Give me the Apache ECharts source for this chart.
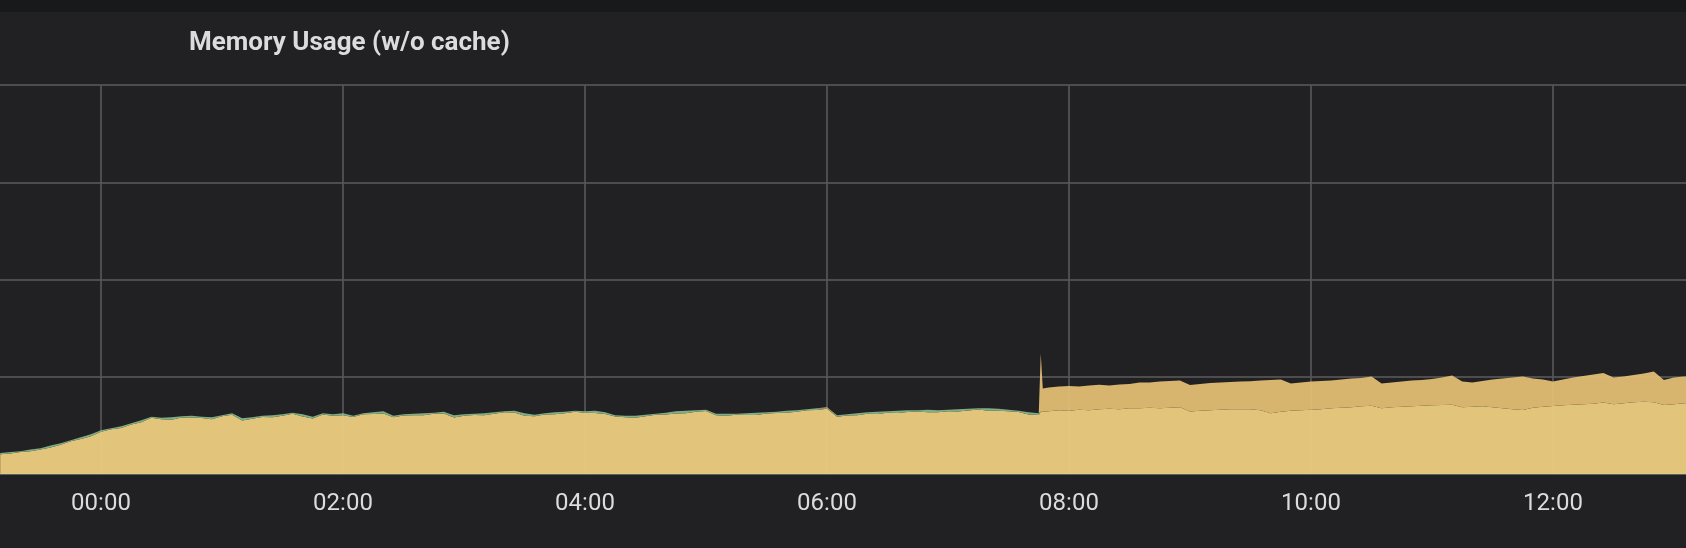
<!DOCTYPE html>
<html>
<head>
<meta charset="utf-8">
<script src="https://cdn.jsdelivr.net/npm/echarts@6/dist/echarts.min.js"></script>
<style>
  html, body { margin: 0; padding: 0; background: #212124; }
  #chart { width: 1686px; height: 548px; }
</style>
</head>
<body>
<div id="chart"></div>
<script>
// Time in minutes relative to 00:00 (negative = previous day), one sample every 5 minutes
const START_MIN = -50;
const STEP_MIN = 5;

// Memory (MiB) – light yellow series (bottom of the stack)
const yellowMiB = [
  20.3,21.0,22.5,23.3,25.2,27.2,30.1,33.6,36.1,38.7,
  43.5,46.1,47.3,50.8,53.1,57.8,56.2,55.9,58.2,58.1,
  57.5,56.3,59.4,60.8,55.1,56.8,58.7,58.4,59.8,61.9,
  59.2,57.1,61.2,59.8,60.4,58.5,61.4,61.7,62.1,58.4,
  60.2,60.3,60.4,61.9,62.2,58.2,60.0,60.7,60.4,61.9,
  63.5,63.2,60.0,59.4,61.2,61.5,62.4,64.0,63.1,62.8,
  61.7,59.2,58.3,57.9,59.5,60.9,61.1,62.1,62.4,64.0,
  64.8,60.3,59.9,60.9,60.6,60.7,62.1,62.8,63.0,63.9,
  65.5,65.7,67.0,58.9,60.2,60.4,61.9,61.6,63.1,62.8,
  63.7,64.3,63.4,63.5,64.6,64.3,65.2,66.3,65.1,65.0,
  64.4,63.8,61.3,60.6,
  64.5,65.5,65.0,66.0,65.5,66.5,67.0,66.5,67.5,67.5,
  68.1,67.5,68.1,68.6,64.2,65.0,65.5,66.0,66.5,66.5,
  66.5,65.5,62.4,64.0,65.0,65.5,66.0,66.5,67.5,68.1,
  68.6,69.6,70.1,67.5,68.6,69.1,69.6,70.1,70.6,70.9,
  71.1,68.6,69.1,69.6,68.6,67.5,66.5,65.8,68.1,69.1,
  69.9,70.6,71.1,71.6,72.2,73.4,71.6,72.7,73.7,74.4,
  73.7,70.9,71.6,72.7,72.7
];

// Memory (MiB) – thin green series
const greenMiB = [
  1.2,1.5,1.0,1.8,1.4,2.0,1.6,1.2,1.8,2.2,
  1.5,1.0,1.8,1.4,2.2,1.0,1.6,2.4,1.2,1.8,
  1.4,2.0,1.0,1.6,2.2,1.5,1.2,2.0,1.6,1.0,
  2.2,1.8,1.2,1.6,2.0,1.4,1.0,1.8,2.4,1.5,
  1.2,1.6,2.0,1.0,1.8,2.2,1.4,1.2,2.0,1.6,
  1.0,1.8,2.4,1.5,1.2,2.0,1.6,1.0,1.4,2.2,
  1.8,1.2,1.6,2.0,1.4,1.0,1.8,2.4,2.6,1.5,
  1.2,1.6,2.0,1.0,1.8,2.2,1.4,1.2,2.0,1.6,
  1.0,1.8,0.5,1.5,1.2,2.0,1.6,2.4,1.4,2.2,
  1.8,1.2,2.6,2.0,1.4,2.2,1.8,1.2,2.4,2.0,
  1.6,1.2,2.2,1.8,
  0,0,0,0,0,0,0,0,0,0,
  0,0,0,0,0,0,0,0,0,0,
  0,0,0,0,0,0,0,0,0,0,
  0,0,0,0,0,0,0,0,0,0,
  0,0,0,0,0,0,0,0,0,0,
  0,0,0,0,0,0,0,0,0,0,
  0,0,0,0,0
];

// Memory (MiB) – tan series (top of the stack)
const tanMiB = [
  0,0,0,0,0,0,0,0,0,0,
  0,0,0,0,0,0,0,0,0,0,
  0,0,0,0,0,0,0,0,0,0,
  0,0,0,0,0,0,0,0,0,0,
  0,0,0,0,0,0,0,0,0,0,
  0,0,0,0,0,0,0,0,0,0,
  0,0,0,0,0,0,0,0,0,0,
  0,0,0,0,0,0,0,0,0,0,
  0,0,1.2,0,0,0,0,0,0,0,
  0,0,0,0,0,0,0,0,0,0,
  0,0,0,0,
  24.5,24.6,25.6,24.1,25.6,25.2,24.1,25.6,25.1,26.7,
  26.1,27.7,27.6,27.6,27.4,27.6,28.1,28.2,28.2,28.7,
  29.0,30.7,34.3,33.2,28.1,28.7,29.2,29.2,28.7,29.1,
  29.7,29.2,30.2,25.6,25.6,26.1,26.6,26.6,27.1,28.4,
  30.2,26.6,25.1,26.1,28.6,30.8,32.8,34.5,30.2,28.1,
  25.3,26.6,28.2,29.2,30.2,30.5,27.7,27.6,28.1,29.0,
  31.7,25.8,27.7,27.6,27.6
];

// Extra samples around the 07:45 restart spike
const extraMinutes = [466, 467];
const extraYellow = [64.0, 64.0];
const extraGreen = [0, 0];
const extraTan = [59.8, 24.0];

// Axis ticks
const tickMinutes = [-120, 0, 120, 240, 360, 480, 600, 720, 840];
const tickLabels = ['22:00', '00:00', '02:00', '04:00', '06:00', '08:00', '10:00', '12:00', '14:00'];

const points = [];
for (let i = 0; i < yellowMiB.length; i++) {
  points.push({ m: START_MIN + i * STEP_MIN, y: yellowMiB[i], g: greenMiB[i], t: tanMiB[i] });
}
for (let i = 0; i < extraMinutes.length; i++) {
  points.push({ m: extraMinutes[i], y: extraYellow[i], g: extraGreen[i], t: extraTan[i] });
}
points.sort((a, b) => a.m - b.m);

// value first, time second, so the stack runs on the value dimension
const enc = { x: 1, y: 0 };

const xBase = {
  type: 'value', min: -120, max: 840, interval: 120, gridIndex: 0
};
const yBase = {
  type: 'value', min: 0, max: 400, interval: 100, gridIndex: 0,
  axisLine: { show: false }, axisTick: { show: false }, axisLabel: { show: false }
};

const chart = echarts.init(document.getElementById('chart'), null, { renderer: 'canvas' });
chart.setOption({
  animation: false,
  backgroundColor: '#212124',
  textStyle: { fontFamily: 'Roboto, sans-serif' },
  graphic: [{
    type: 'rect', left: 0, top: 0, silent: true,
    shape: { width: 1686, height: 12 },
    style: { fill: '#18191b' }
  }],
  title: {
    text: 'Memory Usage (w/o cache)',
    left: 189, top: 30, padding: 0,
    textStyle: { color: '#dcdcde', fontSize: 26, fontWeight: 'bold', fontFamily: 'Roboto, sans-serif' }
  },
  grid: { left: -141, right: -109, top: 85, bottom: 74, containLabel: false, outerBoundsMode: 'none' },
  xAxis: [
    Object.assign({}, xBase, {
      axisLine: { show: true, onZero: false, lineStyle: { color: '#58585b', width: 2 } },
      axisTick: { show: false },
      axisLabel: {
        color: '#dcdcde', fontSize: 24, margin: 18, fontFamily: 'Roboto, sans-serif',
        formatter: v => { const k = tickMinutes.indexOf(v); return k >= 0 ? tickLabels[k] : ''; }
      },
      splitLine: { show: true, lineStyle: { color: '#454548', width: 2 } }
    }),
    Object.assign({}, xBase, {
      z: 5,
      axisLine: { show: false }, axisTick: { show: false }, axisLabel: { show: false },
      splitLine: { show: true, lineStyle: { color: 'rgba(255,255,255,0.045)', width: 2 } }
    })
  ],
  yAxis: [
    Object.assign({}, yBase, {
      splitLine: { show: true, lineStyle: { color: '#454548', width: 2 } }
    }),
    Object.assign({}, yBase, {
      z: 5,
      splitLine: { show: true, lineStyle: { color: 'rgba(255,255,255,0.045)', width: 2 } }
    })
  ],
  series: [
    {
      name: 'yellow', type: 'line', stack: 'mem', symbol: 'none', smooth: false,
      encode: enc,
      lineStyle: { width: 0 },
      areaStyle: { color: '#e2c47b', opacity: 1 },
      data: points.map(p => [p.y, p.m])
    },
    {
      name: 'green', type: 'line', stack: 'mem', symbol: 'none', smooth: false,
      encode: enc,
      lineStyle: { width: 0 },
      areaStyle: { color: '#7fae86', opacity: 1 },
      data: points.map(p => [p.g, p.m])
    },
    {
      name: 'tan', type: 'line', stack: 'mem', symbol: 'none', smooth: false,
      encode: enc,
      lineStyle: { width: 0 },
      areaStyle: { color: '#d8b56f', opacity: 1 },
      data: points.map(p => [p.t, p.m])
    }
  ]
});
</script>
</body>
</html>
